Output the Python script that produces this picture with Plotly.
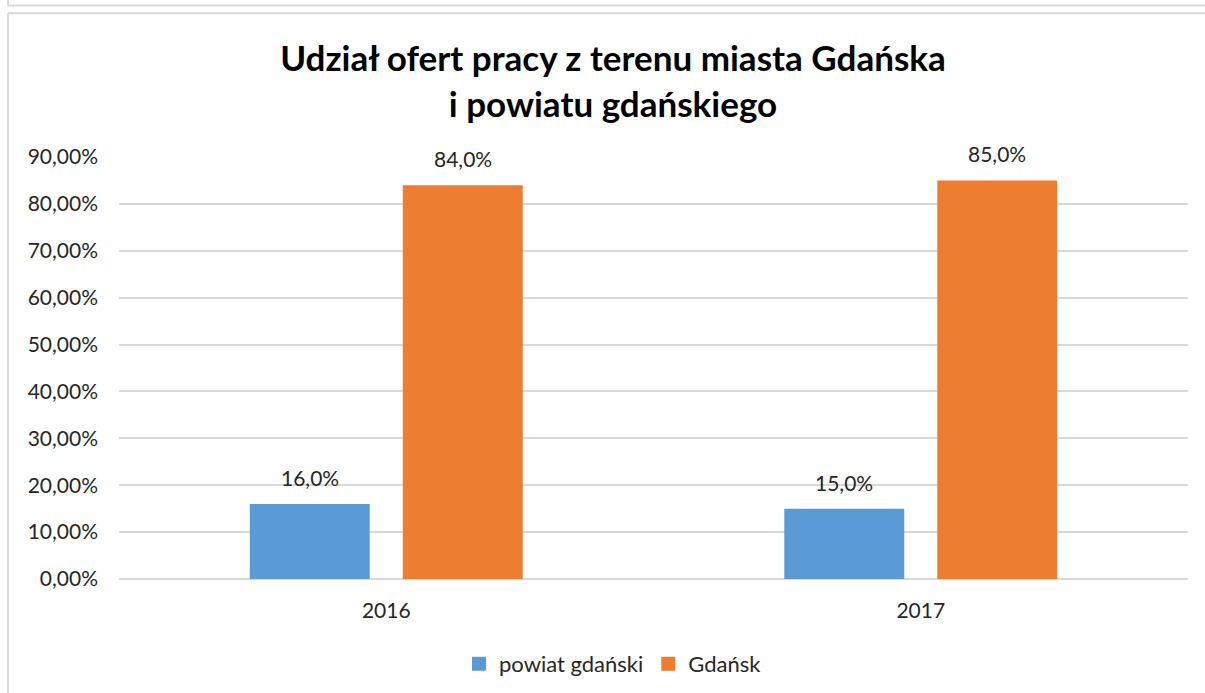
import plotly.graph_objects as go

# ---- data ----
categories = ["2016", "2017"]
series_names = ["powiat gdański", "Gdańsk"]
powiat_values = [0.16, 0.15]
gdansk_values = [0.84, 0.85]
y_tick_values = [0.0, 0.1, 0.2, 0.3, 0.4, 0.5, 0.6, 0.7, 0.8, 0.9]
y_tick_labels = ["0,00%", "10,00%", "20,00%", "30,00%", "40,00%",
                 "50,00%", "60,00%", "70,00%", "80,00%", "90,00%"]

colors = ["#5B9BD5", "#ED7D31"]
FONT = "Lato"
W, H = 1205, 693
L, R, T, B = 119, 17, 157, 114

fig = go.Figure()
for name, vals, col in zip(series_names, [powiat_values, gdansk_values], colors):
    fig.add_trace(go.Bar(x=categories, y=vals, name=name, showlegend=False,
                         marker=dict(color=col, line=dict(width=0))))
# legend proxies (square markers)
for name, col in zip(series_names, colors):
    fig.add_trace(go.Scatter(x=[None], y=[None], mode="markers", name=name,
                             marker=dict(symbol="square", size=14, color=col)))

# data labels from data (x given as category index)
annotations = []
shift = [-76.5, 76.5]
for i, vals in enumerate([powiat_values, gdansk_values]):
    for ci, v in enumerate(vals):
        annotations.append(dict(
            x=ci, y=v, xref="x", yref="y", text=f"{v*100:.1f}%".replace(".", ","),
            showarrow=False, xshift=shift[i], yshift=12, yanchor="bottom",
            font=dict(family=FONT, size=21, color="#262626")))

def px2x(px):
    return (px - L) / (W - L - R)

def py2y(py):
    return (H - B - py) / (H - T - B)

frame_col = "#D9D9D9"
shapes = [
    dict(type="line", xref="paper", yref="paper", x0=px2x(8), x1=px2x(1210), y0=py2y(5.5), y1=py2y(5.5),
         line=dict(color=frame_col, width=2)),
    dict(type="line", xref="paper", yref="paper", x0=px2x(8), x1=px2x(8), y0=py2y(-5), y1=py2y(5.5),
         line=dict(color=frame_col, width=2)),
    dict(type="line", xref="paper", yref="paper", x0=px2x(8), x1=px2x(1210), y0=py2y(13.3), y1=py2y(13.3),
         line=dict(color=frame_col, width=2)),
    dict(type="line", xref="paper", yref="paper", x0=px2x(8), x1=px2x(8), y0=py2y(13.3), y1=py2y(700),
         line=dict(color=frame_col, width=2)),
]

fig.update_layout(
    width=W, height=H,
    margin=dict(l=L, r=R, t=T, b=B, autoexpand=False),
    paper_bgcolor="white", plot_bgcolor="white",
    barmode="group", bargap=0.4275, bargroupgap=0.216,
    title=dict(text="Udział ofert pracy z terenu miasta Gdańska<br>i powiatu gdańskiego",
               x=613 / W, xref="container", xanchor="center",
               y=1 - 71 / H, yref="container", yanchor="top",
               font=dict(family=FONT, size=35, color="#000000", weight="bold")),
    font=dict(family=FONT, size=21, color="#262626"),
    showlegend=True,
    legend=dict(orientation="h", xref="container", yref="container", x=613 / W, xanchor="center",
                y=1 - 664 / H, yanchor="middle", font=dict(family=FONT, size=22, color="#262626"),
                itemwidth=30, traceorder="normal"),
    annotations=annotations,
    shapes=shapes,
)
fig.update_xaxes(type="category", range=[-0.5, 1.5], autorange=False, showgrid=False, showline=False,
                 zeroline=False, ticks="", ticklabelstandoff=17,
                 tickfont=dict(family=FONT, size=21, color="#262626"))
fig.update_yaxes(range=[0, 0.9], autorange=False, tickvals=y_tick_values, ticktext=y_tick_labels,
                 showgrid=True, gridcolor="#D9D9D9", gridwidth=1.5, zeroline=True, zerolinecolor="#D9D9D9",
                 zerolinewidth=1.5, showline=False, ticks="", ticklabelstandoff=20,
                 tickfont=dict(family=FONT, size=21, color="#262626"))

fig.write_html("out.html", post_script="document.body.style.margin='0';",
               config={"displayModeBar": False})
